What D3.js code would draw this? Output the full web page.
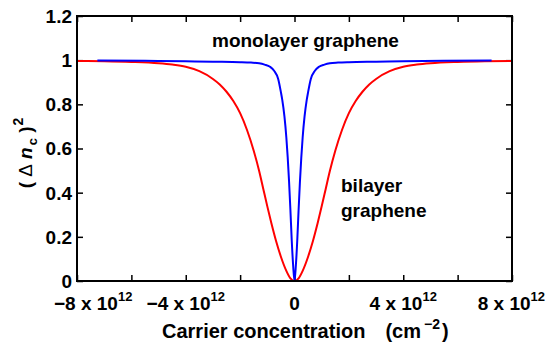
<!DOCTYPE html>
<html><head><meta charset="utf-8">
<script src="https://cdn.jsdelivr.net/npm/d3@7/dist/d3.min.js"></script>
<style>
html,body{margin:0;padding:0;background:#fff;}
text{font-family:"Liberation Sans",Arial,Helvetica,sans-serif;font-weight:bold;fill:#000;}
</style></head>
<body><svg id="c" width="546" height="352"></svg>
<script>
// carrier concentration in units of 10^12 cm^-2
const monoN = [-7.25,-5.5,-4,-3,-2,-1.6,-1.3,-1.1,-0.9,-0.75,-0.6,-0.5,-0.45,-0.37,-0.3,-0.25,-0.2,-0.15,-0.1,-0.05,0,
               0.05,0.1,0.15,0.2,0.25,0.3,0.37,0.45,0.5,0.6,0.75,0.9,1.1,1.3,1.6,2,3,4,5.5,7.25];
const monoV = [0.998,0.997,0.995,0.993,0.991,0.989,0.986,0.98,0.97,0.952,0.915,0.855,0.82,0.745,0.65,0.56,0.45,0.32,0.18,0.07,0,
               0.07,0.18,0.32,0.45,0.56,0.65,0.745,0.82,0.855,0.915,0.952,0.97,0.98,0.986,0.989,0.991,0.993,0.995,0.997,0.998];
const biN = [-8,-7,-6,-5,-4.5,-4,-3.5,-3,-2.75,-2.5,-2.25,-2,-1.75,-1.5,-1.3,-1.15,-1,-0.85,-0.67,-0.5,-0.3,-0.15,0,
             0.15,0.3,0.5,0.67,0.85,1,1.15,1.3,1.5,1.75,2,2.25,2.5,2.75,3,3.5,4,4.5,5,6,7,8];
const biV = [0.996,0.995,0.992,0.986,0.98,0.97,0.95,0.915,0.89,0.857,0.815,0.76,0.685,0.59,0.498,0.418,0.338,0.262,0.178,0.11,0.046,0.012,0,
             0.012,0.046,0.11,0.178,0.262,0.338,0.418,0.498,0.59,0.685,0.76,0.815,0.857,0.89,0.915,0.95,0.97,0.98,0.986,0.992,0.995,0.996];
const xTicks = [-8,-6,-4,-2,0,2,4,6,8];
const xLabelTicks = [-8,-4,0,4,8];
const yTicks = [0,0.2,0.4,0.6,0.8,1,1.2];
const yTickLabels = ["0","0.2","0.4","0.6","0.8","1","1.2"];

const svg = d3.select("#c");
const L=77,R=512,T=16,B=281;
const x = d3.scaleLinear().domain([-8,8]).range([L,R]);
const y = d3.scaleLinear().domain([0,1.2]).range([B,T]);

function tickAxis(axis, tx, ty){
  const g = svg.append("g").attr("transform",`translate(${tx},${ty})`).call(axis);
  g.select(".domain").remove();
  g.selectAll(".tick line").attr("stroke","#000").attr("stroke-width",1.5);
  g.selectAll(".tick text").remove();
}
tickAxis(d3.axisBottom(x).tickValues(xTicks).tickSize(-6).tickFormat(""),0,B);
tickAxis(d3.axisTop(x).tickValues(xTicks).tickSize(-6).tickFormat(""),0,T);
tickAxis(d3.axisLeft(y).tickValues(yTicks).tickSize(-6).tickFormat(""),L,0);
tickAxis(d3.axisRight(y).tickValues(yTicks).tickSize(-6).tickFormat(""),R,0);

const line = (ns,vs)=> d3.line().x((d,i)=>x(ns[i])).y((d,i)=>y(vs[i])).curve(d3.curveMonotoneX)(ns);
svg.append("path").attr("d",line(biN,biV)).attr("fill","none").attr("stroke","#ff0000").attr("stroke-width",2);
svg.append("path").attr("d",line(monoN,monoV)).attr("fill","none").attr("stroke","#0000ff").attr("stroke-width",2);

svg.append("rect").attr("x",L).attr("y",T).attr("width",R-L).attr("height",B-T)
  .attr("fill","none").attr("stroke","#000").attr("stroke-width",2);

// y tick labels
yTicks.forEach((v,i)=>{
  svg.append("text").attr("x",L-5).attr("y",y(v)).attr("dy","0.36em")
    .attr("text-anchor","end").attr("font-size",19).text(yTickLabels[i]);
});
// x tick labels
xLabelTicks.forEach(v=>{
  const t = svg.append("text").attr("y",310).attr("font-size",19).attr("text-anchor","middle");
  if(v===0){ t.attr("x",x(v)).text("0"); return; }
  t.append("tspan").text((v<0?"\u2212":"")+Math.abs(v)+" x 10");
  t.append("tspan").attr("font-size",13).attr("dy",-9).text("12");
  t.attr("x",x(v));
  const bb = t.node().getBBox();
  if(bb.x < 54) t.attr("x", x(v) + (54-bb.x));
  if(bb.x+bb.width > 545) t.attr("x", x(v) - (bb.x+bb.width-545));
});
// x axis title
const xt = svg.append("text").attr("x",162).attr("y",338).attr("font-size",20);
xt.append("tspan").text("Carrier concentration");
xt.append("tspan").attr("dx",20).text("(cm");
xt.append("tspan").attr("font-size",14).attr("dx",3).attr("dy",-9).text("\u22122");
xt.append("tspan").attr("dy",9).attr("dx",2).text(")");

// y axis title
const yt = svg.append("text").attr("transform","translate(32,153) rotate(-90)")
  .attr("text-anchor","middle").attr("font-size",19);
yt.append("tspan").text("( ");
yt.append("tspan").attr("font-weight","normal").text("\u0394");
yt.append("tspan").attr("font-style","italic").attr("dx",5).text("n");
yt.append("tspan").attr("font-size",13).attr("dx",2).attr("dy",5).text("c");
yt.append("tspan").attr("dy",-5).text(" )");
yt.append("tspan").attr("font-size",14).attr("dx",1).attr("dy",-9).text("2");

// annotations
svg.append("text").attr("x",212).attr("y",47).attr("font-size",19).text("monolayer graphene");
svg.append("text").attr("x",341).attr("y",192).attr("font-size",19).text("bilayer");
svg.append("text").attr("x",341).attr("y",217).attr("font-size",19).text("graphene");
</script></body></html>
